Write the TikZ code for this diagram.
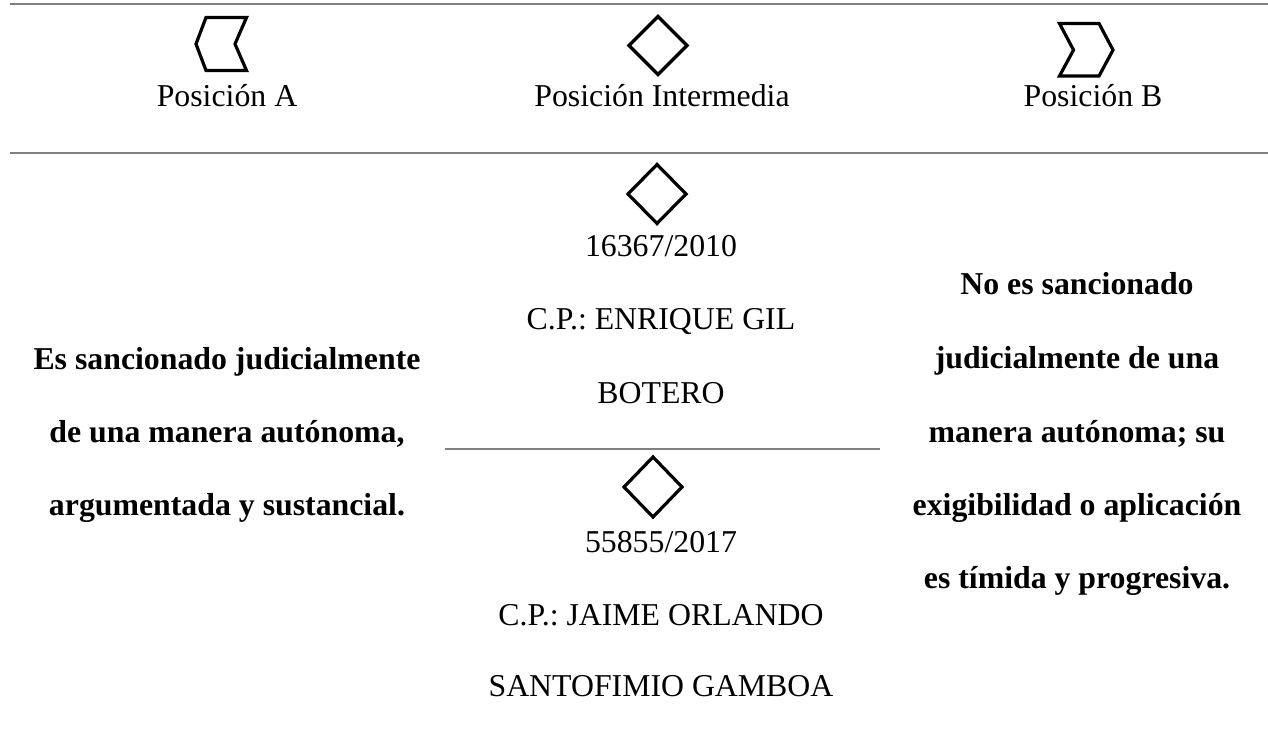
\documentclass[tikz,border=0pt]{standalone}
\usepackage{fontspec}
\setmainfont{Liberation Serif}
\frenchspacing
\begin{document}
\begin{tikzpicture}[x=1pt,y=-1pt,
  rule/.style={draw=black!50, line width=1.6pt},
  glyph/.style={draw=black, line width=3.2pt, line join=miter},
  txt/.style={inner sep=0pt, anchor=base, font=\fontsize{31.8pt}{38pt}\selectfont\frenchspacing},
  btxt/.style={inner sep=0pt, anchor=base, font=\fontsize{31.8pt}{38pt}\selectfont\bfseries\frenchspacing}]
\useasboundingbox (0,0) rectangle (1268,738);
% rules
\coordinate (r1a) at (10,4);   \coordinate (r1b) at (1268,4);
\coordinate (r2a) at (10,153); \coordinate (r2b) at (1268,153);
\coordinate (r3a) at (445,449); \coordinate (r3b) at (880,449);
\draw[rule] (r1a) -- (r1b);
\draw[rule] (r2a) -- (r2b);
\draw[rule] (r3a) -- (r3b);
% header glyphs
\draw[glyph] (206,17.5) -- (246.5,17.5) -- (235,44) -- (246.5,70.5) -- (206,70.5) -- (196,44) -- cycle;
\draw[glyph] (658,16.5) -- (687,45.5) -- (658,74.5) -- (629,45.5) -- cycle;
\draw[glyph] (1059.5,23.5) -- (1099,23.5) -- (1113,50) -- (1099,76) -- (1059.5,76) -- (1073.5,50) -- cycle;
% header labels
\node[txt] (pa) at (227,107) {Posición A};
\node[txt] (pi) at (662,107) {Posición Intermedia};
\node[txt] (pb) at (1093,107) {Posición B};
% middle column glyphs
\draw[glyph] (657,164.5) -- (686,194) -- (657,223.5) -- (628,194) -- cycle;
\draw[glyph] (653,457) -- (682,487) -- (653,517) -- (624,487) -- cycle;
% middle column texts
\node[txt] (m1) at (661,256) {16367/2010};
\node[txt] (m2) at (661,329) {C.P.: ENRIQUE GIL};
\node[txt] (m3) at (661,403) {BOTERO};
\node[txt] (m4) at (661,552) {55855/2017};
\node[txt] (m5) at (661,625) {C.P.: JAIME ORLANDO};
\node[txt] (m6) at (661,696) {SANTOFIMIO GAMBOA};
% left column
\node[btxt] (l1) at (227,369) {Es sancionado judicialmente};
\node[btxt] (l2) at (227,442) {de una manera autónoma,};
\node[btxt] (l3) at (227,515) {argumentada y sustancial.};
% right column
\node[btxt] (d1) at (1077,294) {No es sancionado};
\node[btxt] (d2) at (1077,368) {judicialmente de una};
\node[btxt] (d3) at (1077,442) {manera autónoma; su};
\node[btxt] (d4) at (1077,515) {exigibilidad o aplicación};
\node[btxt] (d5) at (1077,588) {es tímida y progresiva.};
\end{tikzpicture}
\end{document}
